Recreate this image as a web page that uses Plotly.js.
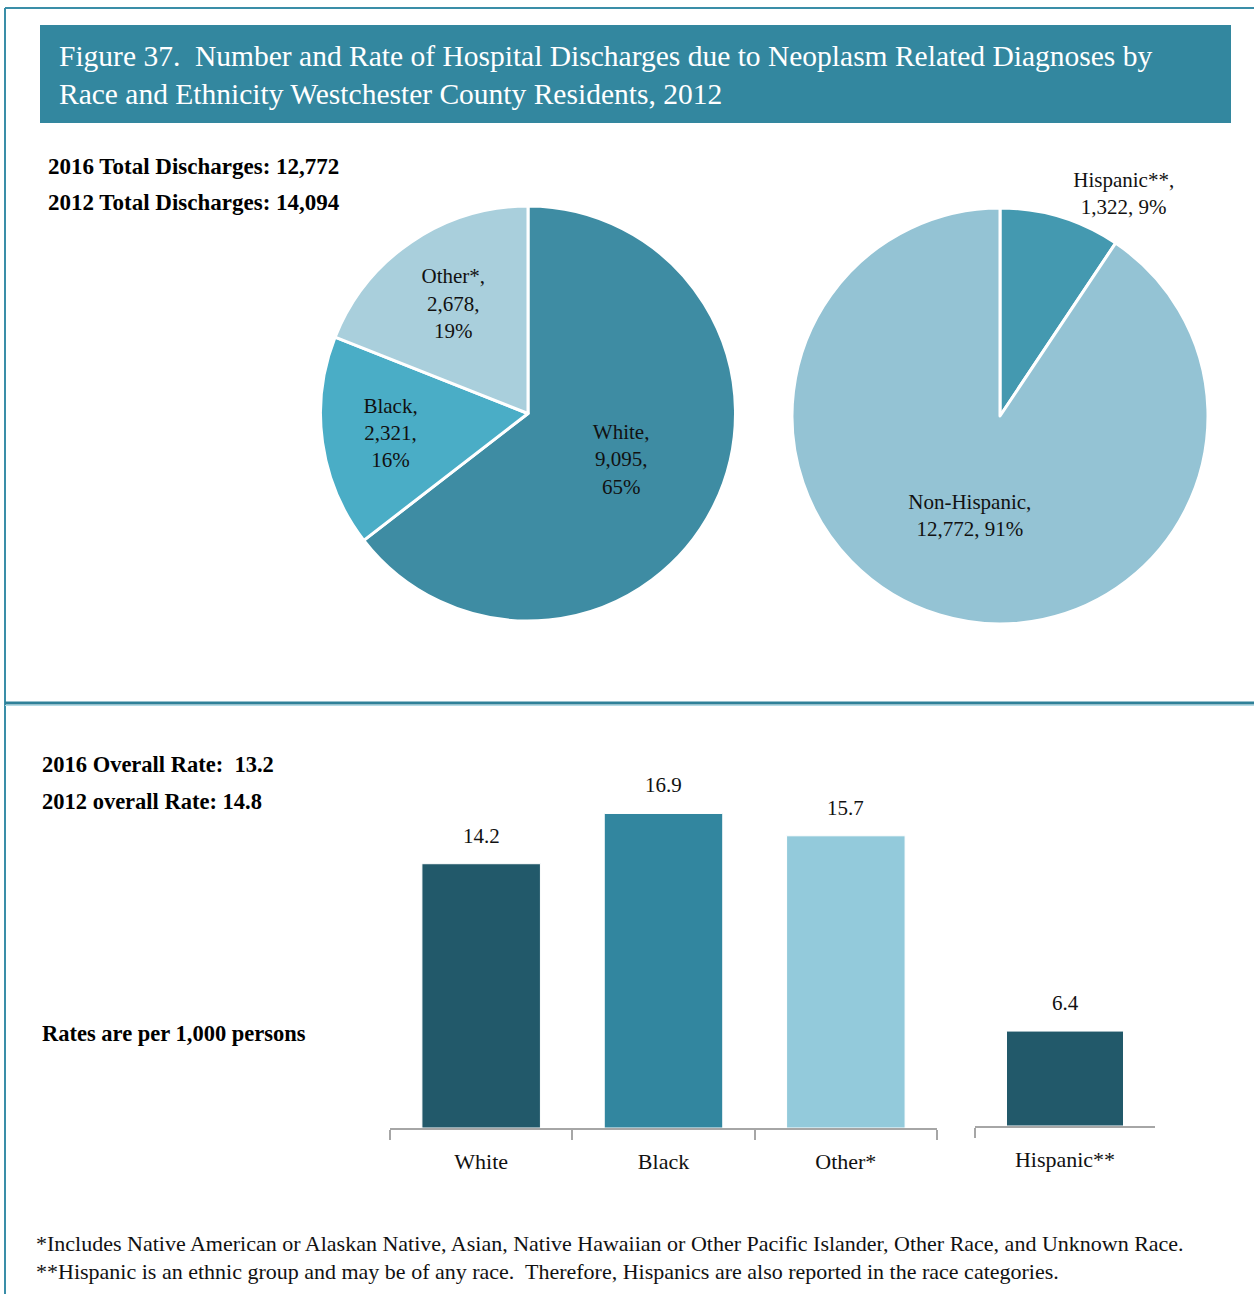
<!DOCTYPE html>
<html><head><meta charset="utf-8">
<script src="https://cdn.plot.ly/plotly-3.0.1.min.js"></script>
<style>html,body{margin:0;padding:0;background:#fff}#chart{width:1254px;height:1294px}</style>
</head><body><div id="chart"></div>
<script>
// ---- data ----
const raceLabels = ['White', 'Black', 'Other*'];
const raceCounts = [9095, 2321, 2678];
const ethLabels = ['Hispanic**', 'Non-Hispanic'];
const ethCounts = [1322, 12772];
const rateCats = ['White', 'Black', 'Other*'];
const rateValues = [14.2, 16.9, 15.7];
const hispCats = ['Hispanic**'];
const hispValues = [6.4];
const titleText = 'Figure 37.  Number and Rate of Hospital Discharges due to Neoplasm Related Diagnoses by<br>Race and Ethnicity Westchester County Residents, 2012';
const sideNotes = ['2016 Total Discharges: 12,772', '2012 Total Discharges: 14,094'];
const rateNotes = ['2016 Overall Rate:  13.2', '2012 overall Rate: 14.8', 'Rates are per 1,000 persons'];
const footnotes = ['*Includes Native American or Alaskan Native, Asian, Native Hawaiian or Other Pacific Islander, Other Race, and Unknown Race.',
  '**Hispanic is an ethnic group and may be of any race.  Therefore, Hispanics are also reported in the race categories.'];

// ---- layout helpers ----
const W = 1254, H = 1294;
const px = v => v / W;
const py = v => 1 - v / H;
const SERIF = 'Liberation Serif, Times New Roman, serif';

const traces = [
  {
    type: 'pie', labels: raceLabels, values: raceCounts, sort: false, direction: 'clockwise', rotation: 0,
    domain: {x: [px(320), px(736)], y: [py(621), py(206)]},
    marker: {colors: ['#3E8CA3', '#4AADC6', '#A9CFDC'], line: {color: '#ffffff', width: 3}},
    texttemplate: '%{label},<br>%{value:,},<br>%{percent:.0%}', textposition: 'inside',
    insidetextorientation: 'horizontal',
    insidetextfont: {family: SERIF, size: 21, color: '#111'},
    hoverinfo: 'label+value+percent', showlegend: false
  },
  {
    type: 'pie', labels: ethLabels, values: ethCounts, sort: false, direction: 'clockwise', rotation: 0,
    domain: {x: [px(792), px(1208)], y: [py(624), py(208)]},
    marker: {colors: ['#4499B0', '#94C3D4'], line: {color: '#ffffff', width: 3}},
    texttemplate: '%{label},<br>%{value:,}, %{percent:.0%}', textposition: ['outside', 'inside'],
    insidetextorientation: 'horizontal',
    insidetextfont: {family: SERIF, size: 21, color: '#111'},
    outsidetextfont: {family: SERIF, size: 21, color: '#111'},
    hoverinfo: 'label+value+percent', showlegend: false
  },
  {
    type: 'bar', x: rateCats, y: rateValues, xaxis: 'x', yaxis: 'y',
    marker: {color: ['#22596A', '#32869F', '#93CADB'], line: {color: '#ffffff', width: 1}},
    showlegend: false
  },
  {
    type: 'bar', x: hispCats, y: hispValues, xaxis: 'x2', yaxis: 'y2',
    marker: {color: ['#22596A'], line: {color: '#ffffff', width: 1}},
    showlegend: false
  }
];

const xaxisCommon = {
  type: 'category', showline: true, linecolor: '#A6A6A6', linewidth: 2,
  ticks: 'outside', tickson: 'boundaries', ticklen: 10, tickwidth: 2, tickcolor: '#A6A6A6',
  tickfont: {family: SERIF, size: 22, color: '#111'}, showgrid: false, zeroline: false,
  fixedrange: true, ticklabelstandoff: 13
};

const annotations = [];
// value labels above bars, positioned through the bar axes
rateCats.forEach((c, i) => annotations.push({
  text: rateValues[i].toFixed(1), xref: 'x', yref: 'y', x: c, y: rateValues[i],
  xanchor: 'center', yanchor: 'bottom', yshift: 14, showarrow: false,
  font: {family: SERIF, size: 21, color: '#111'}
}));
hispCats.forEach((c, i) => annotations.push({
  text: hispValues[i].toFixed(1), xref: 'x2', yref: 'y2', x: c, y: hispValues[i],
  xanchor: 'center', yanchor: 'bottom', yshift: 14, showarrow: false,
  font: {family: SERIF, size: 21, color: '#111'}
}));
sideNotes.forEach((t, i) => annotations.push({
  text: '<b>' + t + '</b>', xref: 'paper', yref: 'paper', x: px(46), y: py(166 + i * 37),
  xanchor: 'left', yanchor: 'middle', showarrow: false, font: {family: SERIF, size: 23, color: '#000'}
}));
[765, 801, 1033].forEach((yy, i) => annotations.push({
  text: '<b>' + rateNotes[i] + '</b>', xref: 'paper', yref: 'paper', x: px(40), y: py(yy),
  xanchor: 'left', yanchor: 'middle', showarrow: false, font: {family: SERIF, size: 22.5, color: '#000'}
}));
footnotes.forEach((t, i) => annotations.push({
  text: t, xref: 'paper', yref: 'paper', x: px(34), y: py(1243 + i * 28),
  xanchor: 'left', yanchor: 'middle', showarrow: false, font: {family: SERIF, size: 22, color: '#111'}
}));

const shapes = [
  // title box
  {type: 'rect', xref: 'paper', yref: 'paper', x0: px(40), x1: px(1231), y0: py(123), y1: py(25),
    fillcolor: '#33879F', line: {width: 0}, layer: 'below'},
  // outer frame
  {type: 'line', xref: 'paper', yref: 'paper', x0: px(5), x1: 1, y0: py(8), y1: py(8), line: {color: '#3A8EA8', width: 2}},
  {type: 'line', xref: 'paper', yref: 'paper', x0: px(5), x1: px(5), y0: py(8), y1: 0, line: {color: '#3A8EA8', width: 2}},
  // divider
  {type: 'line', xref: 'paper', yref: 'paper', x0: px(5), x1: 1, y0: py(703), y1: py(703), line: {color: '#2F8199', width: 3}},
  {type: 'line', xref: 'paper', yref: 'paper', x0: px(5), x1: 1, y0: py(705.5), y1: py(705.5), line: {color: '#B4DCE6', width: 1}}
];

const layout = {
  width: W, height: H, margin: {l: 0, r: 0, t: 0, b: 0},
  paper_bgcolor: '#ffffff', plot_bgcolor: 'rgba(0,0,0,0)',
  title: {text: titleText, x: px(59), xanchor: 'left', xref: 'paper', y: py(66), yanchor: 'middle', yref: 'paper',
    font: {family: SERIF, size: 29.5, color: '#ffffff'}},
  bargap: 0.35,
  xaxis: Object.assign({}, xaxisCommon, {domain: [px(390), px(937)], anchor: 'y', range: [-0.5, 2.5]}),
  yaxis: {domain: [py(1128), py(793)], range: [0, 18], visible: false, fixedrange: true},
  xaxis2: Object.assign({}, xaxisCommon, {domain: [px(975), px(1155)], anchor: 'y2', range: [-0.5, 0.5]}),
  yaxis2: {domain: [py(1126), py(859)], range: [0, 18], visible: false, fixedrange: true},
  annotations: annotations, shapes: shapes,
  font: {family: SERIF}
};

Plotly.newPlot('chart', traces, layout, {displayModeBar: false, staticPlot: true});
</script></body></html>
